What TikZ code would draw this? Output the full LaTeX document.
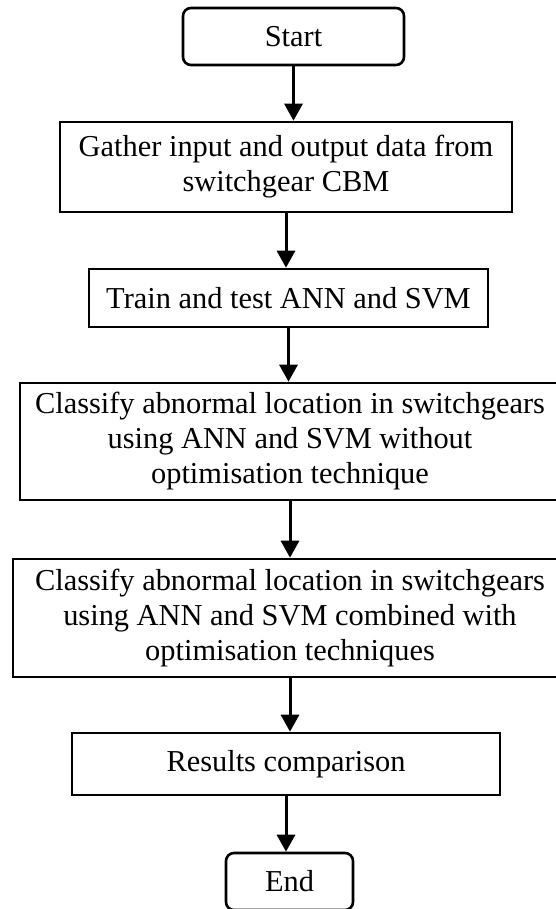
\documentclass[tikz,border=0pt]{standalone}
\usepackage{fontspec}
\setmainfont{Liberation Serif}
\usetikzlibrary{arrows.meta}
\tikzset{
  box/.style={draw,line width=2.6pt,align=center,inner sep=0pt,
    font=\fontsize{30.4}{35}\selectfont},
  termbox/.style={box,rounded corners=8pt},
  arr/.style={line width=3pt,-{Triangle[width=18pt,length=17pt]}}
}
\begin{document}
\begin{tikzpicture}[x=1pt,y=-1pt]
    \useasboundingbox (0,0) rectangle (556,909);
    \node[termbox,minimum width=221pt,minimum height=57pt] (start) at (293.5,36.5) {Start};
    \node[box,minimum width=452pt,minimum height=90pt] (gather) at (286,167) {Gather input and output data from\\switchgear CBM};
    \node[box,minimum width=399pt,minimum height=58pt] (train) at (288.5,298) {Train and test ANN and SVM};
    \node[box,minimum width=540pt,minimum height=117pt] (plain) at (290,441.5) {Classify abnormal location in switchgears\\using ANN and SVM without\\optimisation technique};
    \node[box,minimum width=554pt,minimum height=118pt] (optim) at (290,618) {Classify abnormal location in switchgears\\using ANN and SVM combined with\\optimisation techniques};
    \node[box,minimum width=428pt,minimum height=62pt] (results) at (286,764) {Results comparison};
    \node[termbox,minimum width=127pt,minimum height=57pt] (end) at (289.5,881.5) {End};
    % connectors
    \draw[arr] (start.south) -- (start.south |- gather.north);
    \draw[arr] (gather.south) -- (gather.south |- train.north);
    \draw[arr] (train.south) -- (train.south |- plain.north);
    \draw[arr] (plain.south) -- (plain.south |- optim.north);
    \draw[arr] (optim.south) -- (optim.south |- results.north);
    \draw[arr] (results.south) -- (results.south |- end.north);
\end{tikzpicture}
\end{document}
